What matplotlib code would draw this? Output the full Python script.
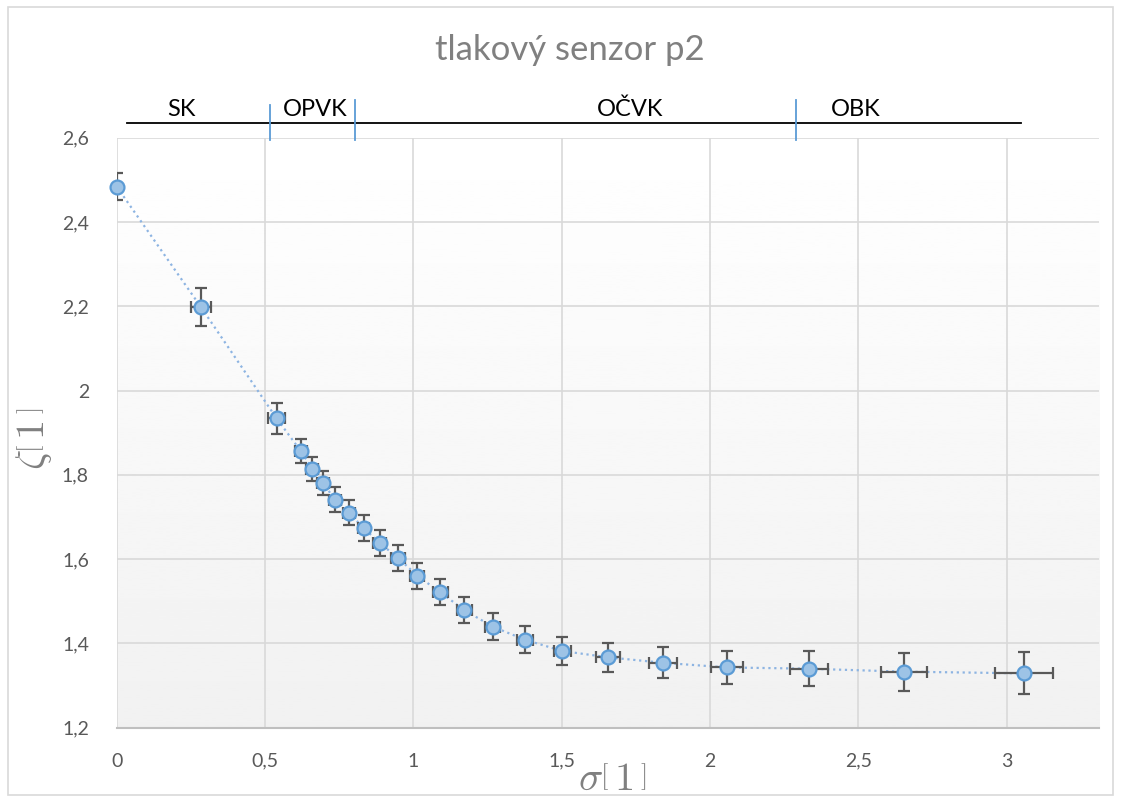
import numpy as np
import matplotlib.pyplot as plt
from matplotlib.ticker import FuncFormatter
from matplotlib.patches import Rectangle

plt.rcParams['font.family'] = ['Lato', 'DejaVu Sans']
plt.rcParams['mathtext.fontset'] = 'cm'

# measured points
sigma = [0, 0.284, 0.539, 0.621, 0.659, 0.695, 0.737, 0.783, 0.832, 0.887, 0.948, 1.013,
         1.091, 1.172, 1.267, 1.375, 1.502, 1.657, 1.842, 2.058, 2.333, 2.654, 3.058]
zeta = [2.484, 2.198, 1.934, 1.856, 1.814, 1.780, 1.741, 1.710, 1.674, 1.638, 1.603, 1.561,
        1.521, 1.479, 1.440, 1.409, 1.382, 1.367, 1.354, 1.343, 1.340, 1.333, 1.329]
sigma_err = [0.005, 0.035, 0.028, 0.02, 0.02, 0.02, 0.02, 0.02, 0.02, 0.022, 0.024, 0.024,
             0.025, 0.026, 0.026, 0.027, 0.029, 0.040, 0.047, 0.054, 0.065, 0.078, 0.098]
zeta_err = [0.033, 0.045, 0.036, 0.029, 0.029, 0.029, 0.029, 0.030, 0.030, 0.030, 0.031, 0.031,
            0.031, 0.031, 0.031, 0.032, 0.034, 0.035, 0.037, 0.039, 0.042, 0.045, 0.050]

# regions above the plot
region_names = ["SK", "OPVK", "OČVK", "OBK"]
region_label_x = [0.22, 0.67, 1.73, 2.49]
region_bounds = [0.517, 0.803, 2.29]
region_span = [0.035, 3.048]

fig = plt.figure(figsize=(11.21, 8.01), dpi=100)
ax = fig.add_axes([0.1041, 0.0915, 0.8765, 0.7366])

xmax, ymin, ymax = 3.312, 1.2, 2.6
ax.set_xlim(0, xmax)
ax.set_ylim(ymin, ymax)

# gradient background of the plot area
grad = np.linspace(1.0, 0.945, 256).reshape(-1, 1)
ax.imshow(grad, extent=[0, xmax, ymin, ymax], aspect='auto', cmap='gray',
          vmin=0, vmax=1, origin='upper', zorder=0)

ax.set_xticks(np.arange(0, 3.01, 0.5))
ax.set_yticks(np.arange(1.2, 2.61, 0.2))
fmt = FuncFormatter(lambda v, p: f"{v:g}".replace('.', ','))
ax.xaxis.set_major_formatter(fmt)
ax.yaxis.set_major_formatter(fmt)
ax.tick_params(length=0, labelsize=14, colors='#595959')
ax.tick_params(axis='x', pad=18)
ax.tick_params(axis='y', pad=20)
ax.grid(True, color='#d9d9d9', lw=1.2, zorder=1)
ax.set_axisbelow(True)
for s in ['top', 'right', 'left']:
    ax.spines[s].set_visible(False)
ax.spines['bottom'].set_color('#bfbfbf')
ax.spines['bottom'].set_linewidth(1.5)

ax.plot(sigma, zeta, ls=':', color='#8db4e2', lw=1.6, zorder=2)
ax.errorbar(sigma, zeta, xerr=sigma_err, yerr=zeta_err, fmt='none', ecolor='#595959',
            elinewidth=1.6, capsize=4.5, capthick=1.6, zorder=3)
ax.plot(sigma, zeta, 'o', ms=10, mfc='#9dc3e6', mec='#5b9bd5', mew=1.6,
        zorder=4, clip_on=False)

# region markers
ax.plot(region_span, [2.635, 2.635], color='black', lw=1.3, clip_on=False)
tops = [2.678, 2.689, 2.689]
for b, t in zip(region_bounds, tops):
    ax.plot([b, b], [2.595, t], color='#5b9bd5', lw=1.3, clip_on=False)
for name, lx in zip(region_names, region_label_x):
    ax.text(lx, 2.667, name, ha='center', va='center', fontsize=17, color='black')

fig.text(0.508, 0.937, "tlakový senzor p2", ha='center', va='center',
         fontsize=25, color='#808080')
fig.text(0.546, 0.028, r'$\sigma\left[\,1\,\right]$', ha='center', va='center',
         fontsize=29, color='#808080')
fig.text(0.030, 0.452, r'$\zeta\left[\,1\,\right]$', ha='center', va='center',
         fontsize=29, color='#808080', rotation=90)

fig.add_artist(Rectangle((0.007, 0.008), 0.986, 0.983, transform=fig.transFigure,
                         fill=False, edgecolor='#d9d9d9', lw=1.2))

fig.savefig("out.png", dpi=100)
